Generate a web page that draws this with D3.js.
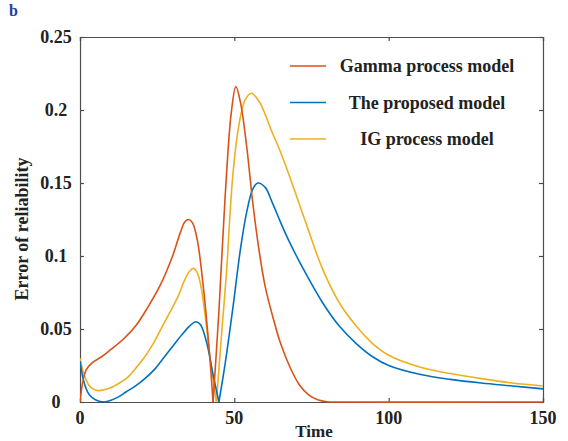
<!DOCTYPE html>
<html>
<head>
<meta charset="utf-8">
<script src="https://cdn.jsdelivr.net/npm/d3@7"></script>
<style>
  body { margin: 0; background: #fff; }
  text { font-family: "Liberation Serif", "Times New Roman", serif; font-weight: bold; }
</style>
</head>
<body>
<svg class="chart" width="568" height="441"></svg>
<script>
"use strict";

// data: [time, error of reliability]
const gammaErr = [
  [0, 0], [1, 0.015], [2, 0.022], [4, 0.027], [7, 0.031], [10, 0.036], [14, 0.043],
  [18, 0.052], [22, 0.065], [26, 0.080], [30, 0.100], [32.5, 0.116], [34, 0.1235],
  [35.3, 0.125], [36.5, 0.1225], [38, 0.111], [40, 0.078], [42, 0.032], [43.1, 0],
  [45, 0.062], [47, 0.140], [49, 0.198], [50.5, 0.216], [52, 0.205], [54, 0.175],
  [56, 0.136], [58, 0.104], [60, 0.079], [62.5, 0.058], [65, 0.040], [68, 0.024],
  [71, 0.012], [74, 0.005], [77, 0.0015], [80, 0.0002], [85, 0], [150, 0]
];
const proposedErr = [
  [0, 0.028], [1, 0.016], [2, 0.009], [3, 0.005], [5, 0.0015], [7, 0.0002], [9, 0.0005],
  [12, 0.003], [15, 0.007], [18, 0.011], [21, 0.016], [24, 0.022], [27, 0.030],
  [30, 0.038], [33, 0.046], [35.5, 0.052], [37.5, 0.055], [39, 0.053], [41, 0.041],
  [43, 0.020], [45, 0],
  [47, 0.026], [49.5, 0.064], [52, 0.105], [54, 0.130], [56, 0.146], [57.6, 0.150],
  [60, 0.147], [62.4, 0.136], [65, 0.123], [68, 0.109], [73.4, 0.087], [78.6, 0.068],
  [84, 0.052], [89.5, 0.040], [94.8, 0.031], [100, 0.025], [110, 0.019], [120, 0.0155],
  [130, 0.013], [140, 0.011], [150, 0.009]
];
const igErr = [
  [0, 0.030], [1, 0.021], [2, 0.015], [3.5, 0.010], [5.8, 0.0078], [9, 0.009],
  [12, 0.012], [15.5, 0.017], [18, 0.023], [21, 0.031], [24, 0.041], [26, 0.049],
  [29, 0.061], [31.7, 0.072], [34, 0.084], [35.5, 0.0895], [36.7, 0.0915], [38, 0.0885],
  [39.2, 0.079], [40.5, 0.060], [42, 0.033], [44.2, 0],
  [46, 0.050], [47.4, 0.087], [49.5, 0.155], [51.5, 0.190], [53.5, 0.207], [55.5, 0.2115],
  [58, 0.206], [60, 0.197], [62, 0.186], [64.7, 0.1726], [68, 0.154], [73.3, 0.122],
  [78.6, 0.091], [84, 0.068], [89.5, 0.052], [94.8, 0.040], [100, 0.032], [110, 0.024],
  [120, 0.0195], [130, 0.016], [140, 0.013], [150, 0.011]
];
const seriesNames = ["Gamma process model", "The proposed model", "IG process model"];
const seriesColors = ["#d95319", "#0072bd", "#edb120"];
const xTicks = [0, 50, 100, 150];
const yTicks = [0, 0.05, 0.1, 0.15, 0.2, 0.25];

const svg = d3.select(".chart");
const plotL = 80, plotR = 543, plotT = 37, plotB = 402;

const x = d3.scaleLinear().domain([0, 150]).range([plotL, plotR]);
const y = d3.scaleLinear().domain([0, 0.25]).range([plotB, plotT]);

// curves: split at the zero cusps so the V stays sharp
function pieces(pts) {
  const out = [];
  let cur = [pts[0]];
  for (let i = 1; i < pts.length; i++) {
    cur.push(pts[i]);
    if (i < pts.length - 1 && pts[i][1] === 0 && pts[i - 1][1] > 0 && pts[i + 1][1] > 0) {
      out.push(cur);
      cur = [pts[i]];
    }
  }
  out.push(cur);
  return out;
}

const line = d3.line()
  .x((d) => x(d[0]))
  .y((d) => y(d[1]))
  .curve(d3.curveCatmullRom.alpha(0.5));

svg.append("clipPath").attr("id", "clip")
  .append("rect")
  .attr("x", plotL).attr("y", plotT - 2)
  .attr("width", plotR - plotL).attr("height", plotB - plotT + 3);

const allSeries = [gammaErr, proposedErr, igErr];
const plot = svg.append("g").attr("clip-path", "url(#clip)");
[2, 1, 0].forEach((i) => {
  plot.selectAll(null)
    .data(pieces(allSeries[i]))
    .enter()
    .append("path")
    .attr("d", line)
    .attr("fill", "none")
    .attr("stroke", seriesColors[i])
    .attr("stroke-width", 1.6);
});

// axes box with inward ticks
const axisColor = "#4d4d4d";
const xb = svg.append("g").attr("transform", `translate(0,${plotB})`)
  .call(d3.axisBottom(x).tickValues(xTicks).tickSize(-4).tickFormat(""));
const xt = svg.append("g").attr("transform", `translate(0,${plotT})`)
  .call(d3.axisTop(x).tickValues(xTicks).tickSize(-4).tickFormat(""));
const yl = svg.append("g").attr("transform", `translate(${plotL},0)`)
  .call(d3.axisLeft(y).tickValues(yTicks).tickSize(-4).tickFormat(""));
const yr = svg.append("g").attr("transform", `translate(${plotR},0)`)
  .call(d3.axisRight(y).tickValues(yTicks).tickSize(-4).tickFormat(""));
[xb, xt, yl, yr].forEach((a) => {
  a.selectAll("path, line").attr("stroke", axisColor).attr("stroke-width", 1.2);
});
// red tail sits on the bottom axis in the original
plot.raise();

// tick labels
svg.selectAll(".xlab")
  .data(xTicks)
  .enter()
  .append("text")
  .attr("x", (d) => x(d))
  .attr("y", 424)
  .attr("text-anchor", "middle")
  .attr("font-size", 18)
  .attr("fill", "#222")
  .text((d) => d);

svg.selectAll(".ylab")
  .data(yTicks)
  .enter()
  .append("text")
  .attr("x", 56)
  .attr("y", (d) => y(d) + 6)
  .attr("text-anchor", "middle")
  .attr("font-size", 18)
  .attr("fill", "#222")
  .text((d) => d3.format("~g")(d));

// axis titles
svg.append("text")
  .attr("x", 314)
  .attr("y", 437)
  .attr("text-anchor", "middle")
  .attr("font-size", 17)
  .attr("fill", "#222")
  .text("Time");

svg.append("text")
  .attr("transform", "translate(28,229) rotate(-90)")
  .attr("text-anchor", "middle")
  .attr("font-size", 18)
  .attr("fill", "#222")
  .text("Error of reliability");

svg.append("text")
  .attr("x", 9)
  .attr("y", 16)
  .attr("font-size", 16)
  .attr("fill", "#1f3fa8")
  .text("b");

// legend
const legend = svg.append("g");
seriesNames.forEach((name, i) => {
  const ly = 66 + i * 36.5;
  legend.append("line")
    .attr("x1", 290).attr("x2", 326)
    .attr("y1", ly).attr("y2", ly)
    .attr("stroke", seriesColors[i])
    .attr("stroke-width", 1.6);
  legend.append("text")
    .attr("x", 427)
    .attr("y", ly + 6)
    .attr("text-anchor", "middle")
    .attr("font-size", 18)
    .attr("fill", "#222")
    .text(name);
});
</script>
</body>
</html>
